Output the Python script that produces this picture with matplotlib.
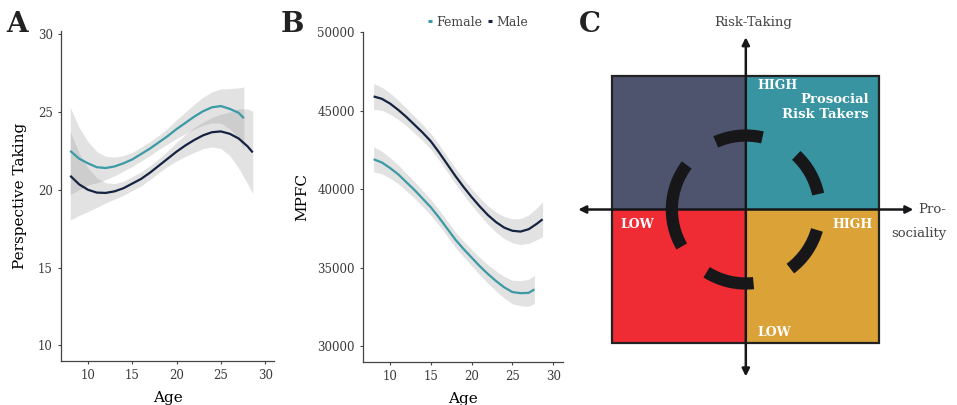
import matplotlib
matplotlib.use("Agg")
import matplotlib.pyplot as plt
import numpy as np
from matplotlib.patches import Rectangle, Arc, FancyArrowPatch

plt.rcParams['font.family'] = ['DejaVu Serif']

# --- Panel A: Perspective Taking ---
wiek_A_k = [8, 9, 10, 11, 12, 13, 14, 15, 16, 17, 18, 19, 20, 21, 22, 23, 24, 25, 26, 27, 27.6]
pt_k = [22.5, 22.0, 21.7, 21.45, 21.4, 21.5, 21.7, 21.95, 22.3, 22.65, 23.05, 23.45, 23.9,
        24.3, 24.7, 25.05, 25.3, 25.38, 25.2, 24.95, 24.6]
pt_k_se = [2.8, 2.0, 1.4, 1.0, 0.75, 0.6, 0.5, 0.45, 0.45, 0.45, 0.45, 0.5, 0.6,
           0.7, 0.8, 0.9, 1.0, 1.1, 1.3, 1.6, 2.0]

wiek_A_m = [8, 9, 10, 11, 12, 13, 14, 15, 16, 17, 18, 19, 20, 21, 22, 23, 24, 25, 26, 27, 28, 28.6]
pt_m = [20.9, 20.35, 20.0, 19.82, 19.8, 19.9, 20.1, 20.4, 20.7, 21.1, 21.55, 22.0, 22.45,
        22.85, 23.2, 23.5, 23.7, 23.75, 23.6, 23.3, 22.8, 22.4]
pt_m_se = [2.85, 2.0, 1.4, 0.95, 0.65, 0.5, 0.45, 0.45, 0.45, 0.45, 0.45, 0.5, 0.6,
           0.7, 0.8, 0.85, 0.95, 1.1, 1.4, 1.9, 2.4, 2.65]

# --- Panel B: MPFC ---
wiek_B_k = [8, 9, 10, 11, 12, 13, 14, 15, 16, 17, 18, 19, 20, 21, 22, 23, 24, 25, 26, 27, 27.7]
mpfc_k = [41900, 41700, 41350, 40950, 40450, 39950, 39400, 38850, 38200, 37500, 36800,
          36200, 35650, 35100, 34600, 34150, 33750, 33450, 33380, 33400, 33620]
mpfc_k_se = [800, 720, 650, 600, 560, 530, 510, 500, 490, 490, 490, 500, 520, 550, 590,
             640, 690, 750, 800, 860, 900]

wiek_B_m = [8, 9, 10, 11, 12, 13, 14, 15, 16, 17, 18, 19, 20, 21, 22, 23, 24, 25, 26, 27, 28, 28.7]
mpfc_m = [45900, 45750, 45450, 45050, 44600, 44100, 43600, 43050, 42350, 41600, 40850,
          40150, 39500, 38900, 38350, 37900, 37550, 37350, 37300, 37450, 37800, 38080]
mpfc_m_se = [820, 740, 670, 610, 560, 530, 510, 500, 490, 490, 490, 500, 520, 550, 590,
             640, 700, 760, 830, 910, 1010, 1100]

# --- Panel C: kwadranty ---
kolory_C = {"lg": "#4f546e", "pg": "#3794a0", "ld": "#ef2c34", "pd": "#dba237"}
luki = [(77, 114), (12, 47), (-53, -16), (-122, -84), (143, 210)]  # kąty segmentów okręgu

TEAL = "#3b9aa5"
NAVY = "#142340"
SZARY = "#444444"

fig = plt.figure(figsize=(9.57, 4.05), dpi=100)
axA = fig.add_axes([0.0637, 0.1086, 0.2226, 0.8148])
axB = fig.add_axes([0.3793, 0.1062, 0.2090, 0.8148])
axC = fig.add_axes([570 / 957, 0, 387 / 957, 1])


def styl(ax):
    for s in ["top", "right"]:
        ax.spines[s].set_visible(False)
    for s in ["left", "bottom"]:
        ax.spines[s].set_color(SZARY)
        ax.spines[s].set_linewidth(0.9)
    ax.tick_params(colors=SZARY, labelsize=8.5, length=2.5, width=0.8, labelcolor="#3a3a3a")


def pasmo(ax, x, y, se):
    y = np.array(y)
    se = np.array(se)
    ax.fill_between(x, y - se, y + se, color="#999999", alpha=0.28, lw=0)


linia = dict(lw=1.6, solid_joinstyle="round", solid_capstyle="butt")

pasmo(axA, wiek_A_k, pt_k, pt_k_se)
pasmo(axA, wiek_A_m, pt_m, pt_m_se)
axA.plot(wiek_A_k, pt_k, color=TEAL, **linia)
axA.plot(wiek_A_m, pt_m, color=NAVY, **linia)
axA.set_xlim(6.95, 31)
axA.set_ylim(9, 30.2)
axA.set_xticks([10, 15, 20, 25, 30])
axA.set_yticks([10, 15, 20, 25, 30])
axA.set_xlabel("Age", fontsize=11, labelpad=6)
axA.set_ylabel("Perspective Taking", fontsize=11, labelpad=8)
styl(axA)

pasmo(axB, wiek_B_k, mpfc_k, mpfc_k_se)
pasmo(axB, wiek_B_m, mpfc_m, mpfc_m_se)
axB.plot(wiek_B_k, mpfc_k, color=TEAL, label="Female", **linia)
axB.plot(wiek_B_m, mpfc_m, color=NAVY, label="Male", **linia)
axB.set_xlim(6.7, 31.2)
axB.set_ylim(29000, 50000)
axB.set_xticks([10, 15, 20, 25, 30])
axB.set_yticks([30000, 35000, 40000, 45000, 50000])
axB.set_xlabel("Age", fontsize=11, labelpad=6)
axB.set_ylabel("MPFC", fontsize=11, labelpad=6)
styl(axB)
leg = axB.legend(loc="center", bbox_to_anchor=(0.575, 1.03), ncol=2, frameon=False,
                 handlelength=0.35, handletextpad=0.35, columnspacing=0.45, fontsize=9,
                 borderpad=0)
for t in leg.get_texts():
    t.set_color(SZARY)
for h in leg.get_lines():
    h.set_linewidth(2.2)

# --- Panel C ---
axC.set_xlim(-1.317, 1.582)
axC.set_ylim(-1.464, 1.569)
axC.axis("off")
axC.add_patch(Rectangle((-1, 0), 1, 1, color=kolory_C["lg"], lw=0))
axC.add_patch(Rectangle((0, 0), 1, 1, color=kolory_C["pg"], lw=0))
axC.add_patch(Rectangle((-1, -1), 1, 1, color=kolory_C["ld"], lw=0))
axC.add_patch(Rectangle((0, -1), 1, 1, color=kolory_C["pd"], lw=0))
axC.add_patch(Rectangle((-1, -1), 2, 2, fill=False, ec="#222222", lw=1.6))

for a1, a2 in luki:
    axC.add_patch(Arc((0, 0), 1.108, 1.108, theta1=a1, theta2=a2, color="#17171a", lw=8.8,
                      capstyle="butt"))

for start, end in [((0, 0), (0, 1.29)), ((0, 0), (0, -1.25)),
                   ((0, 0), (1.255, 0)), ((0, 0), (-1.255, 0))]:
    axC.add_patch(FancyArrowPatch(start, end, arrowstyle="-|>", mutation_scale=11,
                                  color="#17171a", lw=1.8, shrinkA=0, shrinkB=0))

biel = dict(color="white", fontweight="bold", va="center")
axC.text(0.084, 0.925, "HIGH", ha="left", fontsize=9, **biel)
axC.text(0.922, 0.827, "Prosocial", ha="right", fontsize=9.5, **biel)
axC.text(0.922, 0.712, "Risk Takers", ha="right", fontsize=9.5, **biel)
axC.text(-0.942, -0.109, "LOW", ha="left", fontsize=9, **biel)
axC.text(0.952, -0.109, "HIGH", ha="right", fontsize=9, **biel)
axC.text(0.084, -0.918, "LOW", ha="left", fontsize=9, **biel)
axC.text(0.054, 1.404, "Risk-Taking", ha="center", va="center", fontsize=9.5, color=SZARY)
axC.text(1.5, 0.0, "Pro-", ha="right", va="center", fontsize=9.5, color=SZARY)
axC.text(1.5, -0.176, "sociality", ha="right", va="center", fontsize=9.5, color=SZARY)

fig.text(17 / 957, 1 - 25 / 405, "A", fontsize=20, fontweight="bold", va="center", ha="center", color="#222222")
fig.text(292 / 957, 1 - 24 / 405, "B", fontsize=20, fontweight="bold", va="center", ha="center", color="#222222")
fig.text(590 / 957, 1 - 25 / 405, "C", fontsize=20, fontweight="bold", va="center", ha="center", color="#222222")

plt.savefig("out.png", dpi=100)
